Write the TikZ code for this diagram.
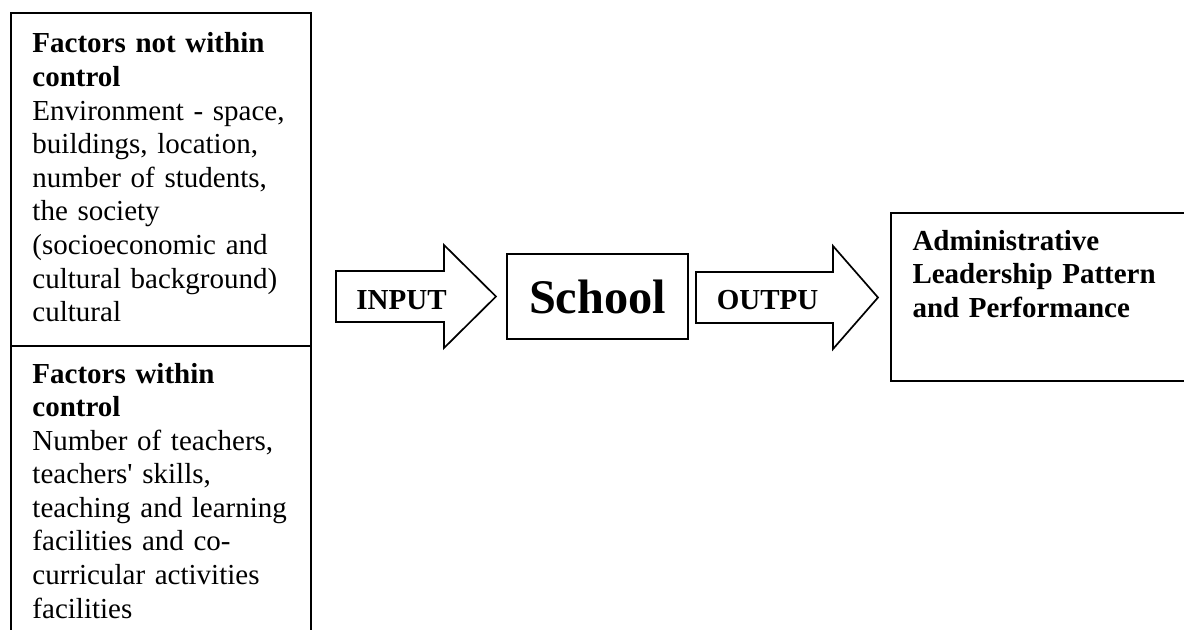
\documentclass[tikz,border=0pt]{standalone}
\usepackage{fontspec}
\setmainfont{Liberation Serif}
\usepackage{tikz}

\begin{document}
\begin{tikzpicture}
[x=0.4138pt, y=-0.4138pt,
% STYLES
% The factor style is used for the text of the left boxes
factor/.style={rectangle, inner sep=0pt, anchor=base west, text width=8.5cm, align=left, font=\fontsize{12}{13.9}\selectfont},
% The frame style is used to draw the boxes
frame/.style={draw, line width=0.7pt},
% The flow style is used to draw the block arrows
flow/.style={draw, line width=0.7pt, line join=miter},
% The label style is used to write in the block arrows
label/.style={inner sep=0pt, anchor=base, font=\bfseries\fontsize{12}{13.9}\selectfont}]

\useasboundingbox (0,0) rectangle (1184,630);

% Draw boxes
\node [frame, rectangle, minimum width=300*0.4138pt, minimum height=333*0.4138pt] (outside) at (161,179.5) {};
\draw [frame] (11,630) -- (11,346) -- (311,346) -- (311,630);
\draw [line width=0.5pt] (11,346) -- (311,346);
\node [frame, rectangle, minimum width=181*0.4138pt, minimum height=85*0.4138pt, font=\bfseries\fontsize{20}{24}\selectfont] (school) at (597.5,296.5) {School};
\draw [frame] (1184,213) -- (891,213) -- (891,381) -- (1184,381);

% FACTORS NOT WITHIN CONTROL
\node [factor] (notwithin) at (32,53) {\textbf{Factors not within}\\\textbf{control}\\Environment - space,\\buildings, location,\\number of students,\\the society\\(socioeconomic and\\cultural background)\\cultural};
% FACTORS WITHIN CONTROL
\node [factor] (within) at (32,383) {\textbf{Factors within}\\\textbf{control}\\Number of teachers,\\teachers\textquotesingle{} skills,\\teaching and learning\\facilities and co-\\curricular activities\\facilities};
% LEADERSHIP
\node [factor, font=\bfseries\fontsize{12}{13.9}\selectfont] (leadership) at (912,250) {Administrative\\Leadership Pattern\\and Performance};

% Draw the block arrows
\draw [flow] (336,271) -- (444,271) -- (444,245) -- (496,296.5) -- (444,348) -- (444,322) -- (336,322) -- cycle;
\draw [flow] (696,272) -- (833,272) -- (833,246) -- (878,297.5) -- (833,349) -- (833,323) -- (696,323) -- cycle;
\node [label] (input) at (401.5,310) {INPUT};
\node [label] (output) at (767.5,310) {OUTPU};

\end{tikzpicture}
\end{document}
